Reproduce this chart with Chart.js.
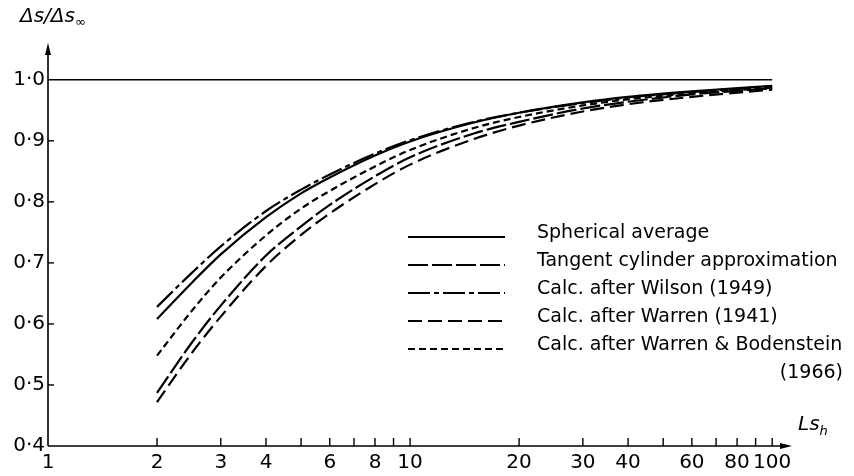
<!DOCTYPE html>
<html>
<head>
<meta charset="utf-8">
<script src="https://cdn.jsdelivr.net/npm/chart.js@4"></script>
<style>
  html, body { margin: 0; padding: 0; background: #fff; }
  #wrap { width: 854px; height: 476px; }
</style>
</head>
<body>
<div id="wrap"><canvas id="chart" width="854" height="476"></canvas></div>
<script>
// DATA
const lsh = [2, 2.5, 3, 4, 5, 6, 8, 10, 15, 20, 30, 40, 60, 100];
const spherical  = [0.608, 0.668, 0.714, 0.775, 0.814, 0.840, 0.876, 0.899, 0.930, 0.946, 0.963, 0.972, 0.981, 0.990];
const tangent    = [0.487, 0.570, 0.630, 0.712, 0.760, 0.795, 0.842, 0.873, 0.912, 0.931, 0.953, 0.964, 0.976, 0.986];
const wilson     = [0.628, 0.684, 0.727, 0.785, 0.820, 0.845, 0.879, 0.901, 0.931, 0.946, 0.962, 0.971, 0.980, 0.989];
const warren     = [0.472, 0.553, 0.612, 0.695, 0.746, 0.781, 0.829, 0.861, 0.903, 0.925, 0.948, 0.960, 0.972, 0.984];
const bodenstein = [0.548, 0.622, 0.676, 0.745, 0.789, 0.818, 0.858, 0.885, 0.921, 0.939, 0.958, 0.968, 0.978, 0.987];
const limitX = [1, 100];
const limitY = [1.0, 1.0];

const xLabels = [1, 2, 3, 4, 6, 8, 10, 20, 30, 40, 60, 80, 100];
const xMinor = [5, 7, 9, 50, 70, 90];
const yLabels = [0.4, 0.5, 0.6, 0.7, 0.8, 0.9, 1.0];

const legendNames = [
  "Spherical average",
  "Tangent cylinder approximation",
  "Calc. after Wilson (1949)",
  "Calc. after Warren (1941)",
  "Calc. after Warren & Bodenstein"
];
const dashes = [[], [20, 4], [22, 4, 5, 4], [14, 6], [7, 4]];
const series = [spherical, tangent, wilson, warren, bodenstein];

const FONT = '"DejaVu Sans", "Liberation Sans", sans-serif';

function toPoints(xs, ys) {
  return xs.map((x, i) => ({ x: x, y: ys[i] }));
}

const datasets = series.map((ys, i) => ({
  label: legendNames[i],
  data: toPoints(lsh, ys),
  borderColor: "#000",
  borderWidth: 2.2,
  borderDash: dashes[i],
  pointRadius: 0,
  showLine: true,
  fill: false,
  cubicInterpolationMode: "monotone"
}));

datasets.push({
  label: "limit",
  data: toPoints(limitX, limitY),
  borderColor: "#000",
  borderWidth: 1.6,
  pointRadius: 0,
  showLine: true,
  fill: false
});

// AXES, TICKS, ARROWS, LEGEND
const decorations = {
  id: "decorations",
  afterDraw(chart) {
    const ctx = chart.ctx;
    const xs = chart.scales.x;
    const ys = chart.scales.y;
    const area = chart.chartArea;
    const left = area.left, bottom = area.bottom;

    ctx.save();
    ctx.strokeStyle = "#000";
    ctx.fillStyle = "#000";
    ctx.lineWidth = 1.6;

    // axis lines
    ctx.beginPath();
    ctx.moveTo(left, bottom);
    ctx.lineTo(left, area.top + 2);
    ctx.moveTo(left, bottom);
    ctx.lineTo(area.right - 2, bottom);
    ctx.stroke();

    // arrow heads
    ctx.beginPath();
    ctx.moveTo(left, area.top - 2);
    ctx.lineTo(left - 3, area.top + 10);
    ctx.lineTo(left + 3, area.top + 10);
    ctx.closePath();
    ctx.fill();
    ctx.beginPath();
    ctx.moveTo(area.right + 2, bottom);
    ctx.lineTo(area.right - 10, bottom - 3);
    ctx.lineTo(area.right - 10, bottom + 3);
    ctx.closePath();
    ctx.fill();

    // x ticks
    ctx.lineWidth = 1.4;
    xLabels.concat(xMinor).forEach(v => {
      if (v === 1) return;
      const px = xs.getPixelForValue(v);
      ctx.beginPath();
      ctx.moveTo(px, bottom);
      ctx.lineTo(px, bottom - 8);
      ctx.stroke();
    });
    // y ticks
    yLabels.forEach(v => {
      if (v === 0.4 || v === 1.0) return;
      const py = ys.getPixelForValue(v);
      ctx.beginPath();
      ctx.moveTo(left, py);
      ctx.lineTo(left + 6, py);
      ctx.stroke();
    });

    // tick labels
    ctx.font = "20px " + FONT;
    ctx.textAlign = "center";
    ctx.textBaseline = "middle";
    xLabels.forEach(v => {
      ctx.fillText(String(v), xs.getPixelForValue(v), bottom + 17);
    });
    ctx.textAlign = "right";
    yLabels.forEach(v => {
      const py = ys.getPixelForValue(v);
      ctx.fillText(v.toFixed(1).replace(".", "\u00b7"), left - 3, py);
    });

    // axis titles
    ctx.textAlign = "left";
    ctx.font = "italic 20px " + FONT;
    ctx.fillText("\u0394s/\u0394s", 20, 17);
    const w = ctx.measureText("\u0394s/\u0394s").width;
    ctx.font = "italic 13px " + FONT;
    ctx.fillText("\u221e", 20 + w, 23);

    ctx.font = "italic 20px " + FONT;
    ctx.fillText("Ls", 798, 425);
    const w2 = ctx.measureText("Ls").width;
    ctx.font = "italic 13px " + FONT;
    ctx.fillText("h", 798 + w2, 432);

    // legend
    const rows = [233, 261, 289, 317, 345];
    ctx.font = "19px " + FONT;
    rows.forEach((y, i) => {
      ctx.lineWidth = 2.2;
      ctx.setLineDash(dashes[i]);
      ctx.beginPath();
      ctx.moveTo(408, y + 4);
      ctx.lineTo(505, y + 4);
      ctx.stroke();
      ctx.setLineDash([]);
      ctx.fillText(legendNames[i], 537, y);
    });
    ctx.textAlign = "right";
    ctx.fillText("(1966)", 843, 373);

    ctx.restore();
  }
};

new Chart(document.getElementById("chart"), {
  type: "scatter",
  data: { datasets: datasets },
  options: {
    responsive: false,
    animation: false,
    layout: { padding: { left: 48, right: 64, top: 45, bottom: 30 } },
    plugins: { legend: { display: false }, tooltip: { enabled: false } },
    scales: {
      x: {
        type: "logarithmic",
        min: 1,
        max: 112,
        ticks: { display: false },
        grid: { display: false, drawTicks: false },
        border: { display: false }
      },
      y: {
        type: "linear",
        min: 0.4,
        max: 1.057,
        ticks: { display: false },
        grid: { display: false, drawTicks: false },
        border: { display: false }
      }
    }
  },
  plugins: [decorations]
});
</script>
</body>
</html>
